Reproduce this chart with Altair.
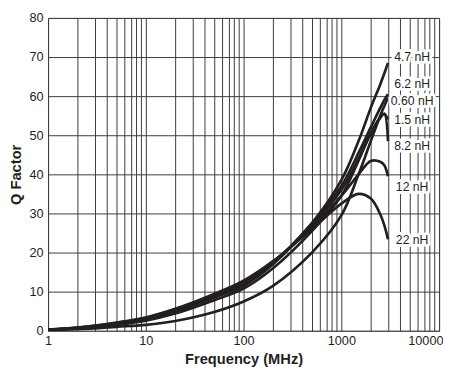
import altair as alt
import pandas as pd

# Frequency sample points (MHz)
freq = [1, 2, 5, 10, 20, 50, 100, 200, 500, 1000, 1500, 2000, 2500, 2750, 3000]

# Q factor per inductance
q_060 = [0.15, 0.4, 1.0, 1.5, 2.5, 4.8, 7.5, 11.5, 20.0, 29.5, 40.0, 48.5, 55.0, 57.5, 59.5]
q_15 = [0.2, 0.55, 1.5, 2.6, 4.4, 7.8, 10.8, 16.0, 25.5, 34.5, 43.5, 50.5, 54.5, 55.5, 54.0]
q_47 = [0.25, 0.6, 1.7, 2.9, 4.9, 8.5, 11.5, 17.0, 27.5, 38.5, 48.5, 57.0, 63.0, 65.8, 68.5]
q_62 = [0.25, 0.7, 1.8, 3.0, 5.1, 8.7, 11.8, 17.2, 27.5, 37.0, 45.5, 52.0, 57.0, 59.0, 60.5]
q_82 = [0.25, 0.7, 1.9, 3.2, 5.3, 9.0, 12.2, 17.5, 27.0, 36.0, 44.0, 50.5, 54.5, 55.5, 48.5]
q_12 = [0.3, 0.8, 2.0, 3.3, 5.5, 9.2, 12.5, 17.6, 26.5, 34.5, 40.0, 43.4, 43.2, 42.3, 39.5]
q_22 = [0.3, 0.8, 2.1, 3.4, 5.6, 9.4, 12.8, 17.8, 26.0, 32.5, 35.0, 33.8, 29.8, 27.0, 23.4]

series_names = ["0.60 nH", "1.5 nH", "4.7 nH", "6.2 nH", "8.2 nH", "12 nH", "22 nH"]
series_values = [q_060, q_15, q_47, q_62, q_82, q_12, q_22]

# Curve labels (annotation anchors, in data units)
label_names = ["4.7 nH", "6.2 nH", "0.60 nH", "1.5 nH", "8.2 nH", "12 nH", "22 nH"]
label_q = [70.1, 63.2, 58.8, 54.0, 47.2, 36.7, 23.1]
label_freq = [5300] * len(label_names)

x_grid = [m * 10 ** e for e in range(4) for m in range(1, 10)] + [10000]
y_ticks = [0, 10, 20, 30, 40, 50, 60, 70, 80]

rows = []
for name, vals in zip(series_names, series_values):
    for f, q in zip(freq, vals):
        rows.append({"series": name, "freq": f, "q": q})
df = pd.DataFrame(rows)
lab = pd.DataFrame({"name": label_names, "q": label_q, "freq": label_freq})

FONT = "Liberation Sans"
INK = "#231f20"
GRID = "#3a3a3a"

xscale = alt.Scale(type="log", domain=[1, 10000], nice=False)
yscale = alt.Scale(domain=[0, 80], nice=False, zero=True)

common_axis = dict(
    grid=True, ticks=False, domain=False, labelOverlap=False,
    gridColor=GRID, gridWidth=1, gridOpacity=1,
    labelFont=FONT, labelFontSize=13, labelColor=INK,
    titleFont=FONT, titleFontSize=15, titleFontWeight="bold", titleColor=INK,
)

x_axis = alt.Axis(
    values=x_grid,
    labelExpr="(datum.value == 1 || datum.value == 10 || datum.value == 100 || datum.value == 1000 || datum.value == 10000) ? format(datum.value, 'd') : ''",
    title="Frequency (MHz)",
    labelPadding=4,
    titlePadding=5,
    labelAlign=alt.ExprRef(expr="datum.value >= 10000 ? 'right' : 'center'"),
    labelOffset=alt.ExprRef(expr="datum.value >= 10000 ? 4 : 0"),
    **common_axis,
)
y_axis = alt.Axis(
    values=y_ticks,
    title="Q Factor",
    labelPadding=5,
    titlePadding=6,
    **common_axis,
)

X = alt.X("freq:Q", scale=xscale, axis=x_axis)
Y = alt.Y("q:Q", scale=yscale, axis=y_axis)

lines = alt.Chart(df).mark_line(
    color=INK, strokeWidth=2.7, interpolate="catmull-rom", clip=True
).encode(x=X, y=Y, detail="series:N")

halo = alt.Chart(lab).mark_text(
    font=FONT, fontSize=12.5, align="center", baseline="middle",
    stroke="white", strokeWidth=6, fill="white", strokeJoin="round"
).encode(x=X, y=Y, text="name:N")

texts = alt.Chart(lab).mark_text(
    font=FONT, fontSize=12.5, align="center", baseline="middle", color=INK
).encode(x=X, y=Y, text="name:N")

chart = alt.layer(lines, halo, texts).properties(
    width=400, height=320, padding=0, background="white"
).configure_view(
    stroke="#777", strokeWidth=1
)

chart.save("out.html", embed_options={"renderer": "svg", "actions": False})
